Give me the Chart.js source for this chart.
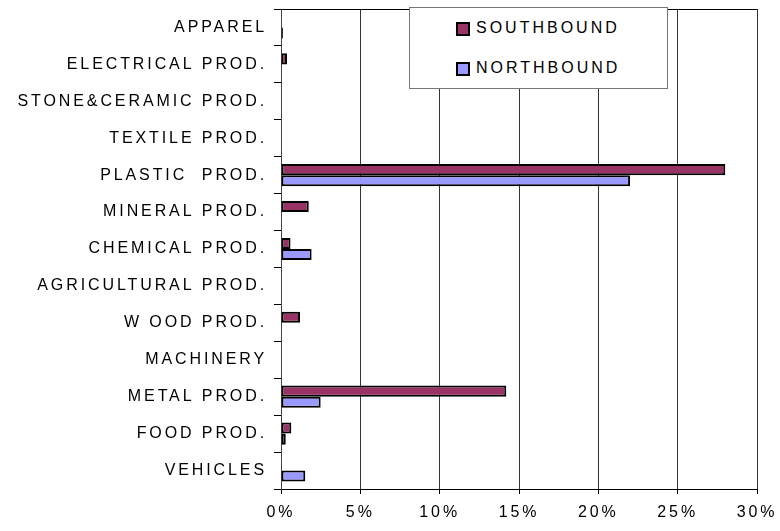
<!DOCTYPE html>
<html>
<head>
<meta charset="utf-8">
<script src="https://cdn.jsdelivr.net/npm/chart.js@4"></script>
<style>
  html, body { margin: 0; padding: 0; background: #fff; }
  #wrap { position: relative; width: 780px; height: 531px; }
  #legend {
    position: absolute; left: 409px; top: 7px; width: 257px; height: 80px;
    border: 1px solid #777; background: #fff;
    font-family: "Liberation Sans", Arial, sans-serif; font-size: 16px; letter-spacing: 3px; color: #000;
  }
  .leg-item { position: absolute; left: 46px; height: 20px; line-height: 20px; }
  .leg-box { position: absolute; left: 0; top: 4px; width: 10px; height: 10px; border: 2px solid #000; }
  .leg-text { position: absolute; left: 20px; top: 0; white-space: nowrap; }
</style>
</head>
<body>
<div id="wrap">
  <canvas id="chart" width="780" height="531"></canvas>
  <div id="legend"></div>
</div>
<script>
/* Southbound / northbound share by product group */

const categories = [
  "APPAREL", "ELECTRICAL PROD.", "STONE&CERAMIC PROD.", "TEXTILE PROD.", "PLASTIC  PROD.",
  "MINERAL PROD.", "CHEMICAL PROD.", "AGRICULTURAL PROD.", "W OOD PROD.", "MACHINERY",
  "METAL PROD.", "FOOD PROD.", "VEHICLES",
];
const southbound = [null, 0.38, null, null, 28.0, 1.75, 0.6, null, 1.2, null, 14.2, 0.65, null];
const northbound = [0.12, null, null, null, 22.0, null, 1.93, null, null, null, 2.5, 0.3, 1.53];
const xTicks = [0, 5, 10, 15, 20, 25, 30];

const COLORS = { south: "#993366", north: "#9999FF", axis: "#000", grid: "#333" };
const FONT = "'Liberation Sans', Arial, sans-serif";

// canvas letter spacing + plot border on top
const spacingPlugin = {
  id: "spacing",
  beforeDraw(chart) { chart.ctx.letterSpacing = "2.9px"; },
  afterDraw(chart) {
    const { ctx, chartArea } = chart;
    ctx.save();
    ctx.strokeStyle = "#000";
    ctx.lineWidth = 1;
    ctx.beginPath();
    ctx.moveTo(chartArea.left - 7, Math.round(chartArea.top) + 0.5);
    ctx.lineTo(chartArea.right, Math.round(chartArea.top) + 0.5);
    ctx.stroke();
    ctx.restore();
  },
};

const barStyle = { borderColor: "#000", borderWidth: 2, borderSkipped: false, categoryPercentage: 0.6, barPercentage: 1 };

new Chart(document.getElementById("chart"), {
  type: "bar",
  data: {
    labels: categories,
    datasets: [
      { label: "SOUTHBOUND", data: southbound, backgroundColor: COLORS.south, ...barStyle },
      { label: "NORTHBOUND", data: northbound, backgroundColor: COLORS.north, ...barStyle },
    ],
  },
  options: {
    indexAxis: "y",
    responsive: false,
    animation: false,
    layout: { padding: { top: 9, right: 23, left: 0, bottom: 0 } },
    plugins: { legend: { display: false }, tooltip: { enabled: false } },
    scales: {
      x: {
        min: 0, max: 30,
        afterBuildTicks: (s) => { s.ticks = xTicks.map((v) => ({ value: v })); },
        afterFit: (s) => { s.height = 42; s.paddingLeft = 0; s.paddingRight = 0; },
        ticks: { callback: (v) => v + "%", color: "#000", font: { family: FONT, size: 16 }, padding: 9, maxRotation: 0 },
        grid: { color: COLORS.grid, tickColor: "#000", tickLength: 5, lineWidth: 1 },
        border: { color: "#000", width: 1 },
      },
      y: {
        afterFit: (s) => { s.width = 281; s.paddingTop = 0; s.paddingBottom = 0; },
        ticks: { color: "#000", font: { family: FONT, size: 16 }, padding: 7, autoSkip: false },
        grid: { offset: true, drawOnChartArea: false, tickLength: 7, color: "#000" },
        border: { color: "#444", width: 1 },
      },
    },
  },
  plugins: [spacingPlugin],
});

document.getElementById("legend").innerHTML = [
  { label: "SOUTHBOUND", color: COLORS.south, top: 10 },
  { label: "NORTHBOUND", color: COLORS.north, top: 50 },
].map((d) => `
  <div class="leg-item" style="top:${d.top}px">
    <span class="leg-box" style="background:${d.color}"></span>
    <span class="leg-text">${d.label}</span>
  </div>`).join("");
</script>
</body>
</html>
